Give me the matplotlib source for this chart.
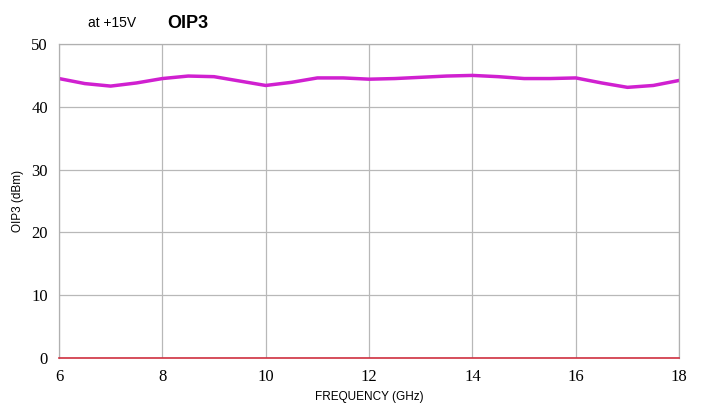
import matplotlib.pyplot as plt

freq = [6, 6.5, 7, 7.5, 8, 8.5, 9, 9.5, 10, 10.5, 11, 11.5, 12, 12.5,
        13, 13.5, 14, 14.5, 15, 15.5, 16, 16.5, 17, 17.5, 18]
oip3 = [44.5, 43.7, 43.3, 43.8, 44.5, 44.9, 44.8, 44.1, 43.4, 43.9, 44.6,
        44.6, 44.4, 44.5, 44.7, 44.9, 45.0, 44.8, 44.5, 44.5, 44.6, 43.8,
        43.1, 43.4, 44.2]
xticks = [6, 8, 10, 12, 14, 16, 18]
yticks = [0, 10, 20, 30, 40, 50]

plt.rcParams["font.family"] = ["Liberation Sans", "DejaVu Sans"]

fig = plt.figure(figsize=(7.03, 4.20), dpi=100)
ax = fig.add_axes([0.0839, 0.1476, 0.8822, 0.7476])

ax.plot(freq, oip3, color="#d020d0", linewidth=2.5,
        solid_capstyle="round", solid_joinstyle="round")

ax.set_xlim(6, 18)
ax.set_ylim(0, 50)
ax.set_xticks(xticks)
ax.set_yticks(yticks)
ax.grid(True, color="#b8b8b8", linewidth=0.9)
ax.set_axisbelow(True)
for side in ["top", "right", "left"]:
    ax.spines[side].set_color("#b0b0b0")
    ax.spines[side].set_linewidth(0.9)
ax.spines["bottom"].set_color("#d03040")
ax.spines["bottom"].set_linewidth(1.2)
ax.tick_params(length=0, pad=8)
for lab in ax.get_xticklabels() + ax.get_yticklabels():
    lab.set_family("Liberation Serif")
    lab.set_fontsize(12)

ax.set_xlabel("FREQUENCY (GHz)", fontsize=8.5, labelpad=4)
ax.set_ylabel("OIP3 (dBm)", fontsize=8.5, labelpad=5)

fig.text(0.125, 0.945, "at +15V", fontsize=10, va="center")
fig.text(0.238, 0.945, "OIP3", fontsize=13, fontweight="bold", va="center")

fig.savefig("out.png", dpi=100)
